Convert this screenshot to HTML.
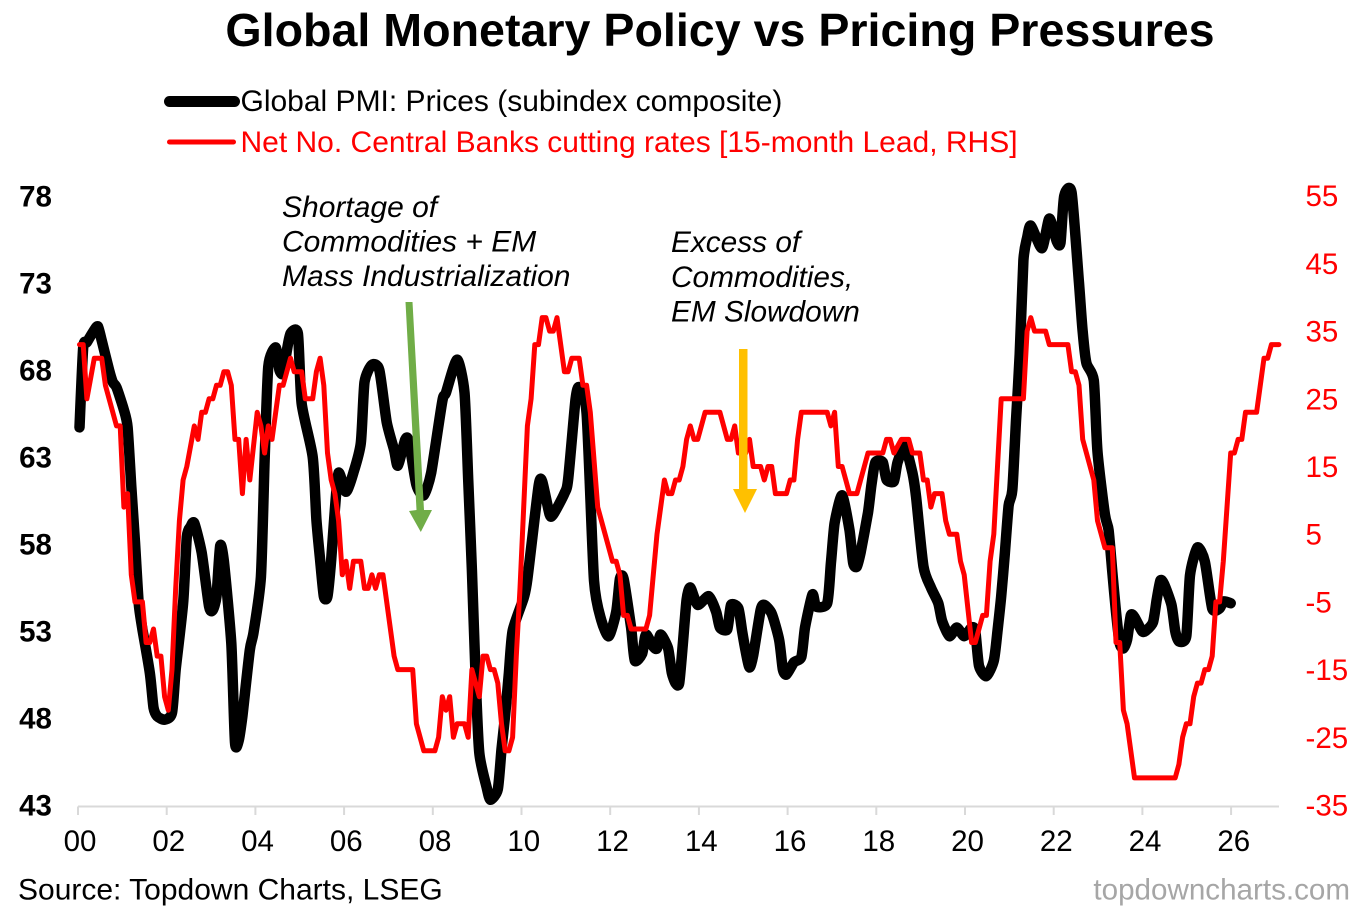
<!DOCTYPE html>
<html lang="en">
<head>
<meta charset="utf-8">
<title>Global Monetary Policy vs Pricing Pressures</title>
<style>
html,body{margin:0;padding:0;background:#fff;}
body{width:1370px;height:910px;overflow:hidden;}
svg{display:block;font-family:"Liberation Sans",Arial,sans-serif;}
</style>
</head>
<body>
<svg id="chart" width="1370" height="910" viewBox="0 0 1370 910" xmlns="http://www.w3.org/2000/svg">
  <rect x="0" y="0" width="1370" height="910" fill="#fff"/>
  <text x="720" y="46" text-anchor="middle" font-size="46.6" font-weight="700" fill="#000">Global Monetary Policy vs Pricing Pressures</text>

  <g>
    <line x1="169.5" y1="101.5" x2="234.5" y2="101.5" stroke="#000" stroke-width="11" stroke-linecap="round"/>
    <text x="240.5" y="111" font-size="30" fill="#000">Global PMI: Prices (subindex composite)</text>
    <line x1="169.5" y1="142" x2="233.5" y2="142" stroke="#f00" stroke-width="5" stroke-linecap="round"/>
    <text x="240.5" y="152" font-size="30" fill="#f00">Net No. Central Banks cutting rates [15-month Lead, RHS]</text>
  </g>

  <g id="x-axis"></g>
  <g id="y-axis-left"></g>
  <g id="y-axis-right"></g>
  <g id="series"></g>

  <g font-size="30" font-style="italic" fill="#000">
    <text x="282" y="217">Shortage of</text>
    <text x="282" y="251.5">Commodities + EM</text>
    <text x="282" y="286">Mass Industrialization</text>
  </g>
  <g font-size="29.8" font-style="italic" fill="#000">
    <text x="671" y="252">Excess of</text>
    <text x="671" y="287">Commodities,</text>
    <text x="671" y="321.5">EM Slowdown</text>
  </g>
  <g fill="#70ad47">
    <polygon points="405.5,302 412.5,302 424,510 432,510 420.8,532 409,511 416.5,510"/>
  </g>
  <g fill="#ffc000">
    <polygon points="739,349 747.5,349 747.5,489 757,489 745,513 733,489 739,489"/>
  </g>

  <text x="18" y="899.5" font-size="30" fill="#000">Source: Topdown Charts, LSEG</text>
  <text x="1350" y="899.5" text-anchor="end" font-size="29.6" fill="#a6a6a6">topdowncharts.com</text>
</svg>
<script>
// Months since January 2000 and index readings for the Global PMI Prices subindex
const pmiMonths = [0,1,2,4,5,6,8,9,10,12,13,14,15,16,17,19,20,21,23,25,26,28,29,30,31,33,35,36,37,38,39,41,42,43,44,46,47,49,50,51,53,54,55,56,57,59,60,63,64,65,66,67,68,69,70,72,74,76,77,79,81,83,85,86,88,89,91,93,95,98,99,102,104,105,106,107,108,110,111,113,114,115,116,117,120,121,124,125,127,128,131,132,134,135,137,139,141,143,145,146,147,149,150,152,153,155,156,157,159,160,161,162,163,164,165,167,170,172,173,175,176,178,179,180,181,182,184,185,187,189,190,191,193,195,196,198,199,202,203,204,206,208,209,210,211,213,214,215,217,218,220,221,223,225,226,228,230,232,233,235,237,239,241,242,243,245,247,248,249,250,251,252,253,254,255,256,257,260,262,264,265,266,268,270,271,272,274,275,277,278,279,280,281,282,283,284,285,287,288,290,291,292,293,295,296,297,299,300,302,304,306,308,309,311];
const pmiValues = [64.7,69.3,69.6,70.3,70.5,69.7,68.0,67.3,67.0,65.7,64.7,61.3,58.1,54.6,53.1,50.6,48.6,48.1,47.9,48.3,50.8,54.6,58.4,59.0,59.2,57.5,54.4,54.2,55.0,57.9,57.0,52.3,46.6,46.7,48.1,51.9,52.9,56.1,62.8,68.2,69.3,68.0,67.8,69.1,70.1,70.1,66.1,63.0,59.4,57.1,55.0,55.0,57.1,60.0,62.1,61.0,62.1,63.8,67.3,68.3,68.0,65.0,63.4,62.5,64.0,63.9,61.4,60.8,62.1,66.2,66.7,68.6,66.7,61.7,56.5,50.4,46.0,44.0,43.3,43.9,46.2,48.2,50.6,53.0,54.9,56.0,61.3,61.6,59.7,59.7,60.9,61.7,66.3,67.0,65.5,55.9,53.6,52.7,54.1,56.0,56.0,53.2,51.3,51.7,52.8,52.1,52.0,52.8,52.0,50.6,50.0,50.0,52.3,54.8,55.5,54.5,55.0,54.1,53.2,53.1,54.5,54.3,53.0,51.8,50.9,51.6,54.2,54.5,54.0,52.5,50.8,50.5,51.2,51.5,53.2,55.1,54.4,54.6,56.9,59.2,60.8,58.8,56.9,56.7,57.5,59.8,61.5,62.7,62.7,61.7,61.6,62.7,63.6,62.1,60.7,56.7,55.5,54.6,53.6,52.7,53.2,52.7,53.2,53.0,51.0,50.4,51.3,53.0,55.0,57.5,60.2,61.1,65.1,68.9,74.3,75.6,76.3,75.0,76.7,75.4,75.3,78.0,78.2,73.0,70.2,68.4,67.4,63.3,59.7,58.8,56.4,54.1,52.3,52.0,52.5,53.9,53.8,53.0,53.0,53.5,54.8,55.9,55.7,54.5,53.0,52.4,52.7,56.2,57.8,57.0,54.3,54.3,54.7,54.6];

// Months since January 2000 and net count of central banks cutting rates
const cbMonths = [0,1,2,4,6,7,10,11,12,13,14,15,17,18,19,20,21,22,23,24,25,26,27,28,29,31,32,33,34,35,36,37,38,39,40,41,42,43,44,45,46,48,49,50,51,52,53,54,55,57,58,60,61,63,64,65,66,67,68,69,70,71,72,73,74,76,77,78,79,80,81,82,84,85,86,90,91,93,96,97,98,99,100,101,102,104,105,106,108,109,110,111,112,113,114,115,116,117,118,119,121,122,123,124,125,126,127,128,129,130,131,132,133,135,136,137,138,140,141,144,145,146,147,148,149,153,154,156,158,159,160,161,162,163,164,165,166,167,169,173,175,176,177,178,180,181,182,184,185,186,187,188,191,192,193,194,195,202,203,204,205,206,207,208,210,211,213,217,218,219,220,222,224,225,227,228,229,230,231,233,234,235,237,238,239,241,242,244,245,246,247,249,255,256,257,258,261,262,267,268,269,270,271,273,274,275,277,279,280,281,282,283,284,285,296,297,298,299,300,301,302,303,304,305,306,307,308,309,311,312,313,314,315,318,320,321,322,324];
const cbValues = [33,33,25,31,31,27,21,21,9,11,-1,-5,-5,-11,-11,-9,-13,-13,-19,-21,-15,-3,7,13,15,21,19,23,23,25,25,27,27,29,29,27,19,19,11,19,13,23,21,17,21,19,23,27,27,31,29,29,25,25,29,31,27,17,13,11,7,-1,1,-3,1,1,-3,-3,-1,-3,-1,-1,-9,-13,-15,-15,-23,-27,-27,-25,-19,-21,-19,-25,-23,-23,-25,-15,-19,-13,-13,-15,-15,-17,-23,-27,-27,-25,-13,-3,21,25,33,33,37,37,35,35,37,33,29,29,31,31,27,27,23,9,7,1,1,-1,-7,-7,-9,-9,-7,5,13,11,11,13,13,15,19,21,19,19,23,23,19,19,21,17,17,19,15,15,13,15,15,11,11,13,13,19,23,23,21,23,15,15,13,11,11,13,17,17,19,19,17,19,19,17,17,13,13,9,11,11,7,5,5,1,-1,-11,-11,-7,-7,1,5,25,25,35,37,35,35,33,33,29,29,27,19,15,13,7,3,3,-11,-11,-21,-23,-27,-31,-31,-29,-25,-23,-23,-19,-17,-17,-15,-15,-13,-5,-5,1,17,17,19,19,23,23,31,31,33,33];

// Axis tick labels
const xTickLabels = ['00','02','04','06','08','10','12','14','16','18','20','22','24','26'];
const leftTickValues = [43,48,53,58,63,68,73,78];
const rightTickValues = [-35,-25,-15,-5,5,15,25,35,45,55];

// Axis functions
function xSeries(month){ return 79.5 + 3.7017*month; }
function xTick(index){ return 78 + 88.7*index; }
function xLabel(index){ return 80 + 88.75*index; }
function yLeft(v){ return 805 - (v-43)*17.4; }
function yRight(v){ return 805 - (v+35)*6.77; }

const NS = 'http://www.w3.org/2000/svg';
function make(tag, attrs, parent, txt){
  const el = document.createElementNS(NS, tag);
  for (const k in attrs) el.setAttribute(k, attrs[k]);
  if (txt !== undefined) el.textContent = txt;
  parent.appendChild(el);
  return el;
}

// X axis
const xAxis = document.getElementById('x-axis');
const axisLine = make('line', {x1:78, y1:806.5, x2:1279, y2:806.5, stroke:'#d9d9d9', 'stroke-width':2}, xAxis);


xTickLabels.forEach(function(label, i){
  const tick = make('line', {x1:xTick(i), y1:806.5, x2:xTick(i), y2:815, stroke:'#d9d9d9', 'stroke-width':2}, xAxis);
  
  
  const t = make('text', {x:xLabel(i), y:851, 'text-anchor':'middle', 'font-size':29.5, fill:'#000'}, xAxis, label);
  
  
});

// Left axis labels
const leftAxis = document.getElementById('y-axis-left');
leftTickValues.forEach(function(v){
  const t = make('text', {x:35.5, y:yLeft(v)+10.5, 'text-anchor':'middle', 'font-size':29.5, 'font-weight':700, fill:'#000'}, leftAxis, String(v));
  
  
});

// Right axis labels
const rightAxis = document.getElementById('y-axis-right');
rightTickValues.forEach(function(v){
  const t = make('text', {x:1305.5, y:yRight(v)+10.5, 'text-anchor':'start', 'font-size':29.5, fill:'#f00'}, rightAxis, String(v));
  
  
});

// Series
const seriesGroup = document.getElementById('series');
function toPoints(months, values, yFn){
  return months.map(function(m, i){ return xSeries(m).toFixed(1) + ',' + yFn(values[i]).toFixed(1); }).join(' ');
}
// Lightly smoothed curve through the readings (Catmull-Rom to cubic Bezier, reduced tension)
function toSmoothPath(months, values, yFn){
  const px = months.map(xSeries);
  const py = values.map(yFn);
  let d = 'M' + px[0].toFixed(1) + ' ' + py[0].toFixed(1);
  for (let i = 0; i < px.length - 1; i++){
    const a = Math.max(i - 1, 0), b = Math.min(i + 2, px.length - 1);
    const c1x = px[i] + (px[i+1] - px[a]) / 9, c1y = py[i] + (py[i+1] - py[a]) / 9;
    const c2x = px[i+1] - (px[b] - px[i]) / 9, c2y = py[i+1] - (py[b] - py[i]) / 9;
    d += 'C' + c1x.toFixed(1) + ' ' + c1y.toFixed(1) + ' ' + c2x.toFixed(1) + ' ' + c2y.toFixed(1) + ' ' + px[i+1].toFixed(1) + ' ' + py[i+1].toFixed(1);
  }
  return d;
}
const pmiLine = make('path', {d:toSmoothPath(pmiMonths, pmiValues, yLeft), fill:'none', stroke:'#000', 'stroke-width':10.5, 'stroke-linejoin':'round', 'stroke-linecap':'round'}, seriesGroup);


const cbLine = make('polyline', {points:toPoints(cbMonths, cbValues, yRight), fill:'none', stroke:'#f00', 'stroke-width':5, 'stroke-linejoin':'round', 'stroke-linecap':'round'}, seriesGroup);


</script>
</body>
</html>
